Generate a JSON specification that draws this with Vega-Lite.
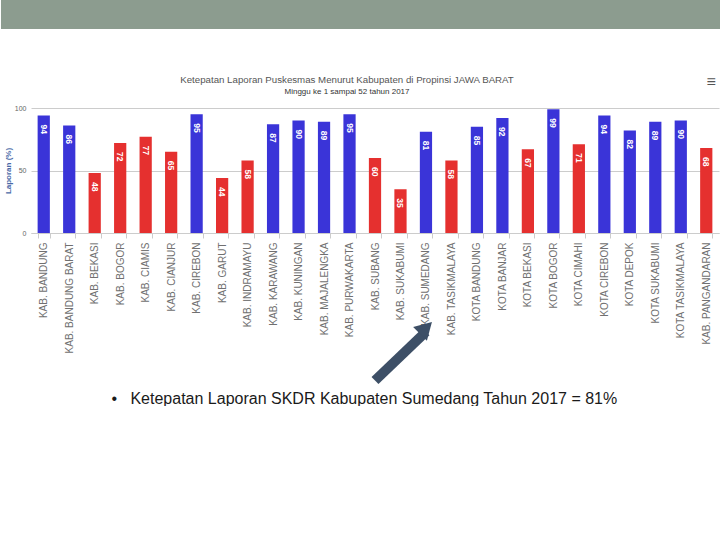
{
  "$schema": "https://vega.github.io/schema/vega-lite/v6.json",
  "padding": 0,
  "spacing": 44,
  "align": "none",
  "background": "white",
  "config": {"view": {"stroke": null}, "font": "Liberation Sans"},
  "datasets": {
    "kab": [
      {"wilayah": "KAB. BANDUNG", "persen": 94, "kelompok": "tinggi"},
      {"wilayah": "KAB. BANDUNG BARAT", "persen": 86, "kelompok": "tinggi"},
      {"wilayah": "KAB. BEKASI", "persen": 48, "kelompok": "rendah"},
      {"wilayah": "KAB. BOGOR", "persen": 72, "kelompok": "rendah"},
      {"wilayah": "KAB. CIAMIS", "persen": 77, "kelompok": "rendah"},
      {"wilayah": "KAB. CIANJUR", "persen": 65, "kelompok": "rendah"},
      {"wilayah": "KAB. CIREBON", "persen": 95, "kelompok": "tinggi"},
      {"wilayah": "KAB. GARUT", "persen": 44, "kelompok": "rendah"},
      {"wilayah": "KAB. INDRAMAYU", "persen": 58, "kelompok": "rendah"},
      {"wilayah": "KAB. KARAWANG", "persen": 87, "kelompok": "tinggi"},
      {"wilayah": "KAB. KUNINGAN", "persen": 90, "kelompok": "tinggi"},
      {"wilayah": "KAB. MAJALENGKA", "persen": 89, "kelompok": "tinggi"},
      {"wilayah": "KAB. PURWAKARTA", "persen": 95, "kelompok": "tinggi"},
      {"wilayah": "KAB. SUBANG", "persen": 60, "kelompok": "rendah"},
      {"wilayah": "KAB. SUKABUMI", "persen": 35, "kelompok": "rendah"},
      {"wilayah": "KAB. SUMEDANG", "persen": 81, "kelompok": "tinggi"},
      {"wilayah": "KAB. TASIKMALAYA", "persen": 58, "kelompok": "rendah"},
      {"wilayah": "KOTA BANDUNG", "persen": 85, "kelompok": "tinggi"},
      {"wilayah": "KOTA BANJAR", "persen": 92, "kelompok": "tinggi"},
      {"wilayah": "KOTA BEKASI", "persen": 67, "kelompok": "rendah"},
      {"wilayah": "KOTA BOGOR", "persen": 99, "kelompok": "tinggi"},
      {"wilayah": "KOTA CIMAHI", "persen": 71, "kelompok": "rendah"},
      {"wilayah": "KOTA CIREBON", "persen": 94, "kelompok": "tinggi"},
      {"wilayah": "KOTA DEPOK", "persen": 82, "kelompok": "tinggi"},
      {"wilayah": "KOTA SUKABUMI", "persen": 89, "kelompok": "tinggi"},
      {"wilayah": "KOTA TASIKMALAYA", "persen": 90, "kelompok": "tinggi"},
      {"wilayah": "KAB. PANGANDARAN", "persen": 68, "kelompok": "rendah"}
    ]
  },
  "vconcat": [
    {
      "width": 690,
      "height": 29,
      "data": {"values": [{}]},
      "mark": {"type": "rect", "color": "#8c9c8f", "clip": false},
      "encoding": {
        "x": {"datum": -0.0435, "type": "quantitative", "scale": {"domain": [0, 1]}, "axis": null},
        "x2": {"datum": 1},
        "y": {"datum": 0, "type": "quantitative", "scale": {"domain": [0, 1]}, "axis": null},
        "y2": {"datum": 1}
      }
    },
    {
      "width": 688,
      "height": 125,
      "data": {"name": "kab"},
      "title": {
        "text": "Ketepatan Laporan Puskesmas Menurut Kabupaten di Propinsi JAWA BARAT",
        "subtitle": "Minggu ke 1 sampai 52 tahun 2017",
        "fontSize": 9.7,
        "fontWeight": "normal",
        "color": "#555555",
        "subtitleFontSize": 8,
        "subtitleColor": "#333333",
        "subtitlePadding": 3,
        "offset": -22,
        "dx": -28,
        "anchor": "middle"
      },
      "encoding": {
        "x": {
          "field": "wilayah",
          "type": "nominal",
          "sort": null,
          "scale": {"paddingInner": 0.52, "paddingOuter": 0.26},
          "axis": {
            "title": "•\u00a0\u00a0 Ketepatan Laporan SKDR Kabupaten Sumedang Tahun 2017 = 81%",
            "titleFontSize": 16,
            "titleFontWeight": "normal",
            "titleColor": "#1a1a1a",
            "titleAnchor": "start",
            "titleX": 80,
            "titleY": 165,
            "titleBaseline": "middle",
            "labelAngle": -90,
            "labelFontSize": 10,
            "labelColor": "#707070",
            "labelLimit": 0,
            "labelPadding": 4,
            "tickBand": "extent",
            "tickColor": "#cccccc",
            "tickSize": 5,
            "domainColor": "#cccccc"
          }
        }
      },
      "layer": [
        {
          "mark": {"type": "bar"},
          "encoding": {
            "y": {
              "field": "persen",
              "type": "quantitative",
              "scale": {"domain": [0, 100]},
              "axis": {
                "title": "Laporan (%)",
                "titleFontSize": 8,
                "titleColor": "#4a6aa8",
                "titleFontWeight": "bold",
                "titlePadding": 2,
                "values": [0, 50, 100],
                "labelFontSize": 7,
                "labelColor": "#666666",
                "labelPadding": 5,
                "ticks": false,
                "domain": false,
                "gridColor": "#cccccc"
              }
            },
            "color": {
              "field": "kelompok",
              "type": "nominal",
              "scale": {"domain": ["tinggi", "rendah"], "range": ["#3a34d8", "#e5302f"]},
              "legend": null
            }
          }
        },
        {
          "mark": {"type": "text", "angle": 90, "align": "left", "baseline": "middle", "dx": 9, "color": "white", "fontSize": 8.5, "fontWeight": "bold"},
          "encoding": {
            "y": {"field": "persen", "type": "quantitative"},
            "text": {"field": "persen", "type": "quantitative"}
          }
        },
        {
          "data": {"values": [{}]},
          "mark": {"type": "rule", "color": "#3d4f66", "strokeWidth": 10, "strokeCap": "butt"},
          "encoding": {
            "x": {"datum": "KAB. SUBANG"},
            "x2": {"datum": "KAB. SUMEDANG"},
            "y": {"datum": -118},
            "y2": {"datum": -79}
          }
        },
        {
          "data": {"values": [{}]},
          "mark": {"type": "point", "shape": "triangle-up", "angle": 45, "filled": true, "opacity": 1, "color": "#3d4f66", "size": 380},
          "encoding": {
            "x": {"datum": "KAB. SUMEDANG"},
            "y": {"datum": -76}
          }
        },
        {
          "data": {"values": [{}]},
          "mark": {"type": "text", "text": "≡", "fontSize": 16, "color": "#555555", "dx": 5},
          "encoding": {
            "x": {"datum": "KAB. PANGANDARAN"},
            "y": {"datum": 121}
          }
        }
      ]
    }
  ]
}
